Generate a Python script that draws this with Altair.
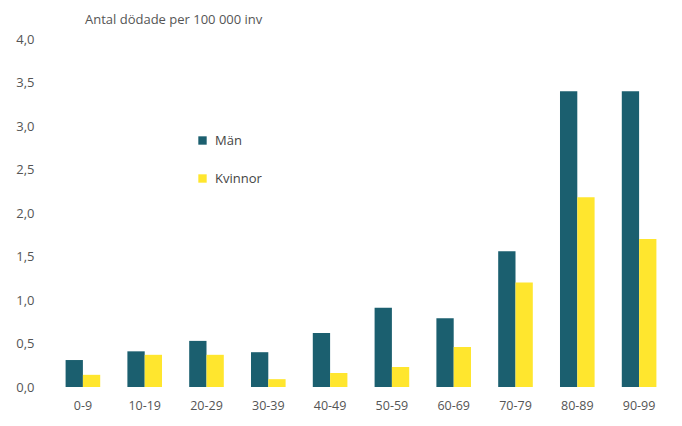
import altair as alt
import pandas as pd

categories = ["0-9", "10-19", "20-29", "30-39", "40-49", "50-59", "60-69", "70-79", "80-89", "90-99"]
man = [0.31, 0.41, 0.53, 0.40, 0.62, 0.91, 0.79, 1.56, 3.40, 3.40]
kvinnor = [0.14, 0.37, 0.37, 0.09, 0.16, 0.23, 0.46, 1.20, 2.18, 1.70]
series = ["Män", "Kvinnor"]
colors = ["#1b5f6f", "#ffe62e"]
y_ticks = [0, 0.5, 1.0, 1.5, 2.0, 2.5, 3.0, 3.5, 4.0]

rows = []
for c, m, k in zip(categories, man, kvinnor):
    rows.append({"grupp": c, "kon": series[0], "varde": m})
    rows.append({"grupp": c, "kon": series[1], "varde": k})
df = pd.DataFrame(rows)

font = "Open Sans"

chart = alt.Chart(df).mark_bar().encode(
    x=alt.X("grupp:N", sort=categories, title=None,
            scale=alt.Scale(paddingInner=0.44, paddingOuter=0.22),
            axis=alt.Axis(labelAngle=0, domain=False, ticks=False, labelPadding=12,
                          labelFontSize=12.5, labelColor="#555555", labelFont=font)),
    xOffset=alt.XOffset("kon:N", sort=series, scale=alt.Scale(domain=series)),
    y=alt.Y("varde:Q", title=None,
            scale=alt.Scale(domain=[0, 4]),
            axis=alt.Axis(values=y_ticks, grid=False, domain=False, ticks=False,
                          labelPadding=18, labelFontSize=13, labelColor="#555555",
                          labelFont=font,
                          labelExpr="replace(format(datum.value, '.1f'), '.', ',')")),
    color=alt.Color("kon:N", sort=series,
                    scale=alt.Scale(domain=series, range=colors),
                    legend=alt.Legend(title=None, orient="none", legendX=144, legendY=95,
                                      symbolType="square", symbolSize=70,
                                      rowPadding=24, labelFontSize=13, labelOffset=6,
                                      labelColor="#444444", labelFont=font)),
).properties(
    width=618, height=348,
    title=alt.TitleParams("Antal dödade per 100 000 inv", anchor="start", frame="group",
                          dx=33, offset=6, fontSize=13, fontWeight="normal",
                          color="#555555", font=font),
    autosize=alt.AutoSizeParams(type="none"),
    padding={"left": 44, "top": 31, "right": 4, "bottom": 30},
).configure_view(stroke=None)

chart.save("out.html", embed_options={"renderer": "svg", "actions": False})
